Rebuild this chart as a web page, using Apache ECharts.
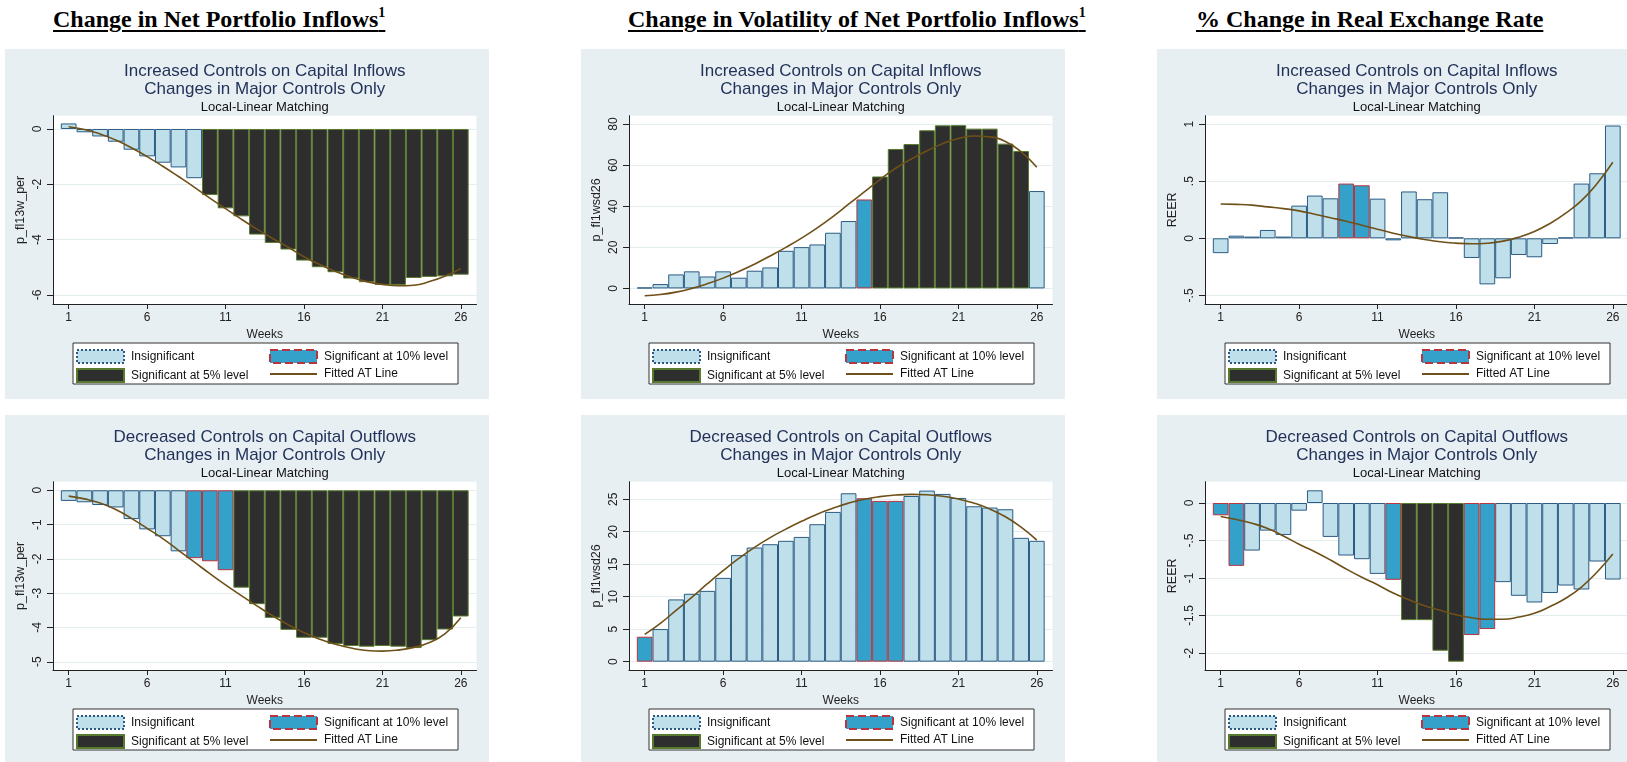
<!DOCTYPE html>
<html>
<head>
<meta charset="utf-8">
<script src="https://cdn.jsdelivr.net/npm/echarts@6/dist/echarts.min.js"></script>
<style>
  html, body { margin: 0; padding: 0; background: #fff; }
  body { width: 1627px; height: 762px; overflow: hidden; position: relative; }
  .hdr {
    position: absolute; top: 7px; white-space: nowrap; color: #000;
    font: bold 24px/24px 'Liberation Serif', 'Times New Roman', serif;
    text-decoration: underline; text-decoration-thickness: 2px; text-underline-offset: 3px;
  }
  .hdr sup { font-size: 14px; line-height: 0; vertical-align: 10px; }
  .panel { position: absolute; width: 484px; height: 350px; background: #e8eff2; }
</style>
</head>
<body>
<div class="hdr" style="left:53px">Change in Net Portfolio Inflows<sup>1</sup></div>
<div class="hdr" style="left:628px">Change in Volatility of Net Portfolio Inflows<sup>1</sup></div>
<div class="hdr" style="left:1196px">% Change in Real Exchange Rate</div>

<div class="panel" id="p1" style="left:5px;top:49px"></div>
<div class="panel" id="p2" style="left:581px;top:49px"></div>
<div class="panel" id="p3" style="left:1157px;top:49px"></div>
<div class="panel" id="p4" style="left:5px;top:415px"></div>
<div class="panel" id="p5" style="left:581px;top:415px"></div>
<div class="panel" id="p6" style="left:1157px;top:415px"></div>

<script>
// weeks after the control change
const weeks = [1, 2, 3, 4, 5, 6, 7, 8, 9, 10, 11, 12, 13, 14, 15, 16, 17, 18, 19, 20, 21, 22, 23, 24, 25, 26]
const weekTicks = [1, 6, 11, 16, 21, 26]
const legendNames = ['Insignificant', 'Significant at 10% level', 'Significant at 5% level', 'Fitted AT Line']

// significance: 0 = insignificant, 1 = 10% level, 2 = 5% level
// --- net portfolio inflows, increased inflow controls
const p1Values = [0.20, -0.12, -0.27, -0.46, -0.75, -0.99, -1.22, -1.39, -1.78, -2.39, -2.87, -3.16, -3.82, -4.12, -4.36, -4.76, -5.00, -5.18, -5.41, -5.54, -5.64, -5.64, -5.39, -5.35, -5.33, -5.27]
const p1Sig = [0, 0, 0, 0, 0, 0, 0, 0, 0, 2, 2, 2, 2, 2, 2, 2, 2, 2, 2, 2, 2, 2, 2, 2, 2, 2]
const p1Fit = [0.08, -0.02, -0.18, -0.40, -0.68, -1.00, -1.35, -1.72, -2.10, -2.50, -2.88, -3.26, -3.62, -3.96, -4.28, -4.62, -4.90, -5.15, -5.36, -5.52, -5.62, -5.67, -5.65, -5.52, -5.32, -5.05]
const p1YTicks = [-6, -4, -2, 0]

// --- volatility of inflows, increased inflow controls
const p2Values = [0.4, 2.1, 6.8, 8.3, 5.8, 8.3, 5.2, 8.6, 10.2, 18.3, 20.1, 21.4, 27.1, 32.8, 43.3, 54.5, 67.9, 70.3, 77.0, 79.4, 79.5, 77.8, 77.8, 70.5, 66.9, 47.4]
const p2Sig = [0, 0, 0, 0, 0, 0, 0, 0, 0, 0, 0, 0, 0, 0, 1, 2, 2, 2, 2, 2, 2, 2, 2, 2, 2, 0]
const p2Fit = [-3.6, -3.0, -1.8, 0.0, 2.3, 5.0, 8.2, 11.8, 15.8, 20.0, 24.5, 29.5, 35.0, 41.0, 47.0, 53.0, 58.5, 63.0, 67.0, 70.5, 73.0, 74.2, 73.8, 71.5, 66.5, 59.0]
const p2YTicks = [0, 20, 40, 60, 80]

// --- REER, increased inflow controls
const p3Values = [-0.13, 0.023, 0.015, 0.073, 0.015, 0.286, 0.374, 0.35, 0.479, 0.464, 0.347, -0.018, 0.41, 0.342, 0.403, 0.006, -0.172, -0.403, -0.35, -0.146, -0.166, -0.05, 0.006, 0.479, 0.569, 0.987]
const p3Sig = [0, 0, 0, 0, 0, 0, 0, 0, 1, 1, 0, 0, 0, 0, 0, 0, 0, 0, 0, 0, 0, 0, 0, 0, 0, 0]
const p3Fit = [0.30, 0.297, 0.29, 0.275, 0.26, 0.24, 0.21, 0.18, 0.15, 0.115, 0.08, 0.045, 0.015, -0.01, -0.03, -0.042, -0.048, -0.043, -0.025, 0.01, 0.06, 0.13, 0.22, 0.33, 0.48, 0.665]
const p3YTicks = [-0.5, 0, 0.5, 1]

// --- net portfolio inflows, decreased outflow controls
const p4Values = [-0.31, -0.35, -0.43, -0.50, -0.84, -1.14, -1.34, -1.78, -1.98, -2.07, -2.33, -2.84, -3.32, -3.72, -4.07, -4.30, -4.30, -4.48, -4.54, -4.56, -4.54, -4.56, -4.60, -4.37, -4.06, -3.68]
const p4Sig = [0, 0, 0, 0, 0, 0, 0, 0, 1, 1, 1, 2, 2, 2, 2, 2, 2, 2, 2, 2, 2, 2, 2, 2, 2, 2]
const p4Fit = [-0.17, -0.25, -0.37, -0.56, -0.82, -1.11, -1.41, -1.75, -2.09, -2.43, -2.76, -3.07, -3.37, -3.66, -3.92, -4.15, -4.34, -4.49, -4.60, -4.67, -4.69, -4.66, -4.58, -4.44, -4.18, -3.72]
const p4YTicks = [-5, -4, -3, -2, -1, 0]

// --- volatility of inflows, decreased outflow controls
const p5Values = [3.84, 5.02, 9.58, 10.45, 10.9, 12.9, 16.4, 17.57, 18.08, 18.6, 19.2, 21.16, 23.05, 25.92, 25.15, 24.74, 24.74, 25.5, 26.33, 25.82, 25.2, 23.92, 23.72, 23.46, 19.06, 18.6]
const p5Sig = [1, 0, 0, 0, 0, 0, 0, 0, 0, 0, 0, 0, 0, 0, 1, 1, 1, 0, 0, 0, 0, 0, 0, 0, 0, 0]
const p5Fit = [4.2, 5.9, 7.9, 9.9, 12.0, 14.0, 15.9, 17.6, 19.1, 20.4, 21.6, 22.7, 23.6, 24.4, 25.0, 25.4, 25.65, 25.75, 25.7, 25.45, 25.05, 24.4, 23.5, 22.3, 20.7, 18.7]
const p5YTicks = [0, 5, 10, 15, 20, 25]

// --- REER, decreased outflow controls
const p6Values = [-0.164, -0.838, -0.634, -0.368, -0.426, -0.102, 0.169, -0.452, -0.70, -0.749, -0.945, -1.024, -1.561, -1.561, -1.969, -2.115, -1.76, -1.68, -1.055, -1.237, -1.326, -1.2, -1.1, -1.153, -0.78, -1.02]
const p6Sig = [1, 1, 0, 0, 0, 0, 0, 0, 0, 0, 0, 1, 2, 2, 2, 2, 1, 1, 0, 0, 0, 0, 0, 0, 0, 0]
const p6Fit = [-0.18, -0.22, -0.27, -0.34, -0.44, -0.55, -0.65, -0.76, -0.88, -0.99, -1.09, -1.20, -1.29, -1.37, -1.43, -1.49, -1.53, -1.55, -1.55, -1.52, -1.47, -1.38, -1.27, -1.12, -0.92, -0.68]
const p6YTicks = [-2, -1.5, -1, -0.5, 0]

const fills = ['#bfe0ea', '#33a1c9', '#2e2e2e']
const borders = ['#2b5b84', '#b8343f', '#587a2c']
const legendBorderTypes = ['dotted', 'dashed', 'solid']
const lineColor = '#6e5018'
const ink = '#222'
const font = "'Liberation Sans', Arial, sans-serif"

const inflowTitle = ['Increased Controls on Capital Inflows', 'Changes in Major Controls Only']
const outflowTitle = ['Decreased Controls on Capital Outflows', 'Changes in Major Controls Only']

const panels = [
  { id: 'p1', title: inflowTitle, yName: 'p_fl13w_per', values: p1Values, sig: p1Sig, fit: p1Fit, ticks: p1YTicks, min: -6.33, max: 0.48 },
  { id: 'p2', title: inflowTitle, yName: 'p_fl1wsd26', values: p2Values, sig: p2Sig, fit: p2Fit, ticks: p2YTicks, min: -7.6, max: 84.1 },
  { id: 'p3', title: inflowTitle, yName: 'REER', values: p3Values, sig: p3Sig, fit: p3Fit, ticks: p3YTicks, min: -0.575, max: 1.073 },
  { id: 'p4', title: outflowTitle, yName: 'p_fl13w_per', values: p4Values, sig: p4Sig, fit: p4Fit, ticks: p4YTicks, min: -5.24, max: 0.25 },
  { id: 'p5', title: outflowTitle, yName: 'p_fl1wsd26', values: p5Values, sig: p5Sig, fit: p5Fit, ticks: p5YTicks, min: -1.28, max: 27.7 },
  { id: 'p6', title: outflowTitle, yName: 'REER', values: p6Values, sig: p6Sig, fit: p6Fit, ticks: p6YTicks, min: -2.226, max: 0.284 },
]

// Stata style labels: .5 instead of 0.5
const stataNum = (v) => String(v).replace(/^(-?)0\./, '$1.')

const G = { left: 48, right: 12.5, top: 66.7, bottom: 95 }
const plotCx = G.left + (484 - G.left - G.right) / 2

function legendItem(k) {
  // line entry: hide the marker ECharts puts in the middle of the line
  if (k === 3) return { name: legendNames[3], itemStyle: { color: 'rgba(0,0,0,0)', borderWidth: 0 } }
  return { name: legendNames[k], icon: 'rect', itemStyle: { borderType: legendBorderTypes[k] } }
}

function getOptions(p) {
  const bars = [0, 1, 2].map((k) => ({
    name: legendNames[k],
    type: 'bar',
    barWidth: '100%',
    barGap: '-100%',
    data: weeks.filter((w, i) => p.sig[i] === k).map((w) => [w, p.values[w - 1]]),
    itemStyle: { color: fills[k], borderColor: borders[k], borderWidth: 1 },
    z: 2,
  }))
  const legendBase = {
    orient: 'vertical', top: 300, padding: 0, itemWidth: 47, itemHeight: 13, itemGap: 4,
    selectedMode: false, textStyle: { fontSize: 12, color: '#111', fontFamily: font, padding: [0, 0, 0, 2] },
  }
  return {
    animation: false,
    textStyle: { fontFamily: font },
    grid: { ...G, show: true, backgroundColor: '#fff', borderWidth: 0 },
    graphic: [
      { type: 'text', x: plotCx, y: 22.5, style: { text: p.title[0], font: `17px ${font}`, fill: '#22325a', textAlign: 'center', textVerticalAlign: 'middle' } },
      { type: 'text', x: plotCx, y: 40, style: { text: p.title[1], font: `17px ${font}`, fill: '#22325a', textAlign: 'center', textVerticalAlign: 'middle' } },
      { type: 'text', x: plotCx, y: 58.5, style: { text: 'Local-Linear Matching', font: `13px ${font}`, fill: '#111', textAlign: 'center', textVerticalAlign: 'middle' } },
      { type: 'rect', shape: { x: 68, y: 294, width: 385, height: 41 }, style: { fill: '#fff', stroke: '#333', lineWidth: 1 }, z: 0 },
    ],
    legend: [
      { ...legendBase, left: 71, data: [legendItem(0), legendItem(2)] },
      { ...legendBase, left: 264, data: [legendItem(1), legendItem(3)] },
    ],
    xAxis: {
      type: 'value', min: 0, max: 27,
      name: 'Weeks', nameLocation: 'middle', nameGap: 25, nameMoveOverlap: false,
      nameTextStyle: { fontSize: 12, color: ink },
      axisLine: { show: true, onZero: false, lineStyle: { color: ink } },
      axisTick: { show: true, length: 5, customValues: weekTicks, lineStyle: { color: ink } },
      axisLabel: { customValues: weekTicks, margin: 8, fontSize: 12, color: ink },
      splitLine: { show: false },
    },
    yAxis: {
      type: 'value', min: p.min, max: p.max,
      name: p.yName, nameLocation: 'middle', nameGap: 25.5, nameRotate: 90, nameMoveOverlap: false,
      nameTextStyle: { fontSize: 12.5, color: ink },
      axisLine: { show: true, onZero: false, lineStyle: { color: ink } },
      axisTick: { show: true, length: 6, customValues: p.ticks, lineStyle: { color: ink } },
      axisLabel: { customValues: p.ticks, rotate: 90, margin: 9, fontSize: 12, color: ink, formatter: stataNum },
      splitLine: { show: true, lineStyle: { color: '#e3ecef', width: 1 } },
    },
    series: [
      ...bars,
      {
        name: legendNames[3],
        type: 'line',
        smooth: true,
        symbol: 'none',
        data: weeks.map((w, i) => [w, p.fit[i]]),
        lineStyle: { color: lineColor, width: 1.6 },
        itemStyle: { color: lineColor },
        z: 5,
      },
    ],
  }
}

panels.forEach((p) => {
  const chart = echarts.init(document.getElementById(p.id))
  chart.setOption(getOptions(p))
})
</script>
</body>
</html>
